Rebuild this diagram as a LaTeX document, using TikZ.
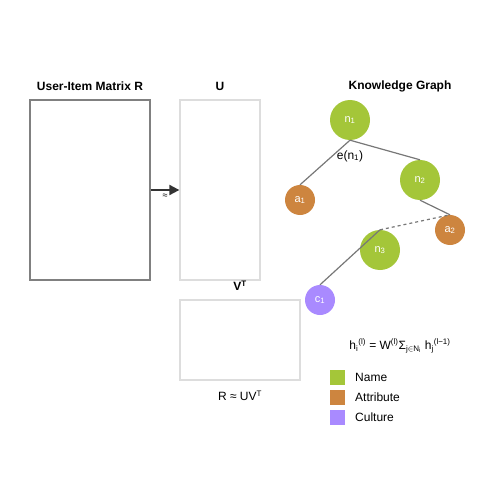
\documentclass[tikz,border=0pt]{standalone}
\usepackage{fontspec}
\setmainfont{Liberation Sans}
\usetikzlibrary{arrows.meta}

\definecolor{namegreen}{HTML}{A4C639}
\definecolor{attrorange}{HTML}{CD853F}
\definecolor{cultpurple}{HTML}{A98AFF}
\definecolor{edgegray}{HTML}{777777}
\definecolor{boxgray}{HTML}{DDDDDD}

\tikzset{
  title/.style={font=\bfseries\fontsize{12}{14}\selectfont},
  matbox/.style={rectangle, draw=boxgray, line width=1.3pt, inner sep=0pt},
  kgnode/.style={circle, inner sep=0pt, text=white, font=\fontsize{11}{13}\selectfont},
  kgedge/.style={draw=edgegray, line width=1.2pt},
  legendbox/.style={rectangle, minimum size=15pt, inner sep=0pt},
  legendtext/.style={anchor=west, inner sep=0pt},
}

\begin{document}
\begin{tikzpicture}[x=1pt, y=-1pt, font=\fontsize{12}{14}\selectfont]
  \useasboundingbox (0,0) rectangle (500,500);

  % matrix factorization
  \node[title] (rtitle) at (90,86) {User-Item Matrix R};
  \node[matbox, draw=gray, minimum width=120pt, minimum height=180pt] (rmat) at (90,190) {};
  \node[title] (utitle) at (220,86) {U};
  \node[matbox, minimum width=80pt, minimum height=180pt] (umat) at (220,190) {};
  \node[title] (vtitle) at (240,286) {V\textsuperscript{T}};
  \node[matbox, minimum width=120pt, minimum height=80pt] (vmat) at (240,340) {};
  \node (rformula) at (240,396) {R ≈ UV\textsuperscript{T}};
  \draw[draw=black!80, line width=2pt, -{Triangle[length=10pt,width=10pt]}] (rmat.east) -- (umat.west);
  \node[font=\fontsize{9}{10}\selectfont] (approx) at (165,196) {≈};

  % knowledge graph
  \node[title] (kgtitle) at (400,86) {Knowledge Graph};
  \node[kgnode, fill=namegreen, minimum size=40pt] (n1) at (350,120) {n\textsubscript{1}};
  \node[kgnode, fill=namegreen, minimum size=40pt] (n2) at (420,180) {n\textsubscript{2}};
  \node[kgnode, fill=namegreen, minimum size=40pt] (n3) at (380,250) {n\textsubscript{3}};
  \node[kgnode, fill=attrorange, minimum size=30pt] (a1) at (300,200) {a\textsubscript{1}};
  \node[kgnode, fill=attrorange, minimum size=30pt] (a2) at (450,230) {a\textsubscript{2}};
  \node[kgnode, fill=cultpurple, minimum size=30pt] (c1) at (320,300) {c\textsubscript{1}};
  \draw[kgedge] (n1.south) -- (a1.north);
  \draw[kgedge] (n1.south) -- (n2.north);
  \draw[kgedge] (n2.south) -- (a2.north);
  \draw[kgedge, dashed] (n3.north) -- (a2.north);
  \draw[kgedge] (n3.north) -- (c1.north);
  \node (elabel) at (350,156) {e(n\textsubscript{1})};

  % propagation rule
  \node[font=\fontsize{12}{14}\selectfont] (hrule) at (400,346)
    {h\textsubscript{i}\textsuperscript{(l)} = W\textsuperscript{(l)}Σ\textsubscript{j\ensuremath{\in}N\textsubscript{i}} h\textsubscript{j}\textsuperscript{(l−1)}};

  % legend
  \node[legendbox, fill=namegreen] (lname) at (337.5,377.5) {};
  \node[legendtext] at (355,377.5) {Name};
  \node[legendbox, fill=attrorange] (lattr) at (337.5,397.5) {};
  \node[legendtext] at (355,397.5) {Attribute};
  \node[legendbox, fill=cultpurple] (lcult) at (337.5,417.5) {};
  \node[legendtext] at (355,417.5) {Culture};
\end{tikzpicture}
\end{document}
